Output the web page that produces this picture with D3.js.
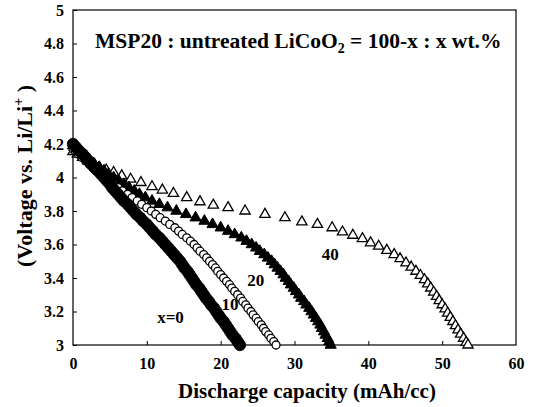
<!DOCTYPE html>
<html>
<head>
<meta charset="utf-8">
<script src="https://cdn.jsdelivr.net/npm/d3@7/dist/d3.min.js"></script>
<style>
  html, body { margin: 0; padding: 0; background: #fff; }
  svg { display: block; font-family: "Liberation Serif", "Times New Roman", serif; font-weight: bold; }
</style>
</head>
<body>
<svg id="chart" width="535" height="407"></svg>
<script>
"use strict";

// axis ticks
const capacityTicks = [0, 10, 20, 30, 40, 50, 60];
const voltageTicks = [3, 3.2, 3.4, 3.6, 3.8, 4, 4.2, 4.4, 4.6, 4.8, 5];
const voltageTickLabels = ["3", "3.2", "3.4", "3.6", "3.8", "4", "4.2", "4.4", "4.6", "4.8", "5"];

// [capacity (mAh/cc), voltage (V)]
const x0Data = [
    [0.0, 4.2], [0.4, 4.18], [0.8, 4.16], [1.3, 4.14], [1.7, 4.12], [2.1, 4.1],
    [2.5, 4.08], [2.9, 4.06], [3.4, 4.04], [3.8, 4.02], [4.2, 4.0],
    [4.6, 3.98], [5.0, 3.96], [5.3, 3.94], [5.7, 3.92], [6.1, 3.9],
    [6.5, 3.88], [6.9, 3.86], [7.4, 3.84], [7.8, 3.82], [8.2, 3.8],
    [8.6, 3.78], [9.1, 3.76], [9.5, 3.74], [10.0, 3.72], [10.4, 3.7],
    [10.8, 3.68], [11.2, 3.66], [11.7, 3.64], [12.1, 3.62], [12.5, 3.6],
    [12.9, 3.58], [13.3, 3.56], [13.7, 3.54], [14.1, 3.52], [14.5, 3.5],
    [14.8, 3.48], [15.1, 3.46], [15.5, 3.44], [15.8, 3.42], [16.1, 3.4],
    [16.4, 3.38], [16.7, 3.36], [17.1, 3.34], [17.4, 3.32], [17.7, 3.3],
    [18.0, 3.28], [18.4, 3.26], [18.7, 3.24], [19.1, 3.22], [19.4, 3.2],
    [19.7, 3.18], [20.0, 3.16], [20.4, 3.14], [20.7, 3.12], [21.0, 3.1],
    [21.3, 3.08], [21.6, 3.06], [22.0, 3.04], [22.3, 3.02], [22.6, 3.0]
];

const x10Data = [
    [0.0, 4.17], [0.3, 4.16], [0.7, 4.14], [1.2, 4.12], [1.7, 4.1],
    [2.2, 4.08], [2.7, 4.06], [3.1, 4.04], [3.6, 4.02], [4.1, 4.0],
    [4.8, 3.98], [5.4, 3.96], [6.1, 3.94], [6.7, 3.92], [7.4, 3.9],
    [8.0, 3.88], [8.7, 3.86], [9.3, 3.84], [10.0, 3.82], [10.6, 3.8],
    [11.2, 3.78], [11.8, 3.76], [12.5, 3.74], [13.1, 3.72], [13.8, 3.7],
    [14.3, 3.68], [14.8, 3.66], [15.4, 3.64], [15.9, 3.62], [16.4, 3.6],
    [16.8, 3.58], [17.2, 3.56], [17.7, 3.54], [18.1, 3.52], [18.5, 3.5],
    [18.9, 3.48], [19.3, 3.46], [19.6, 3.44], [20.0, 3.42], [20.4, 3.4],
    [20.8, 3.38], [21.2, 3.36], [21.5, 3.34], [21.9, 3.32], [22.3, 3.3],
    [22.7, 3.28], [23.0, 3.26], [23.4, 3.24], [23.7, 3.22], [24.1, 3.2],
    [24.4, 3.18], [24.8, 3.16], [25.1, 3.14], [25.5, 3.12], [25.8, 3.1],
    [26.1, 3.08], [26.5, 3.06], [26.8, 3.04], [27.2, 3.02], [27.5, 3.0]
];

const x20Data = [
    [0.0, 4.19], [0.2, 4.18], [0.7, 4.16], [1.2, 4.14], [1.7, 4.12], [2.2, 4.1],
    [2.9, 4.08], [3.5, 4.06], [4.2, 4.04], [4.8, 4.02], [5.5, 4.0],
    [6.2, 3.98], [6.9, 3.96], [7.6, 3.94], [8.3, 3.92], [9.0, 3.9],
    [9.8, 3.88], [10.7, 3.86], [11.7, 3.84], [12.8, 3.82], [14.0, 3.8],
    [15.3, 3.78], [16.6, 3.76], [17.8, 3.74], [18.9, 3.72], [20.0, 3.7],
    [21.0, 3.68], [21.9, 3.66], [22.8, 3.64], [23.5, 3.62], [24.2, 3.6],
    [24.8, 3.58], [25.3, 3.56], [25.9, 3.54], [26.4, 3.52], [26.9, 3.5],
    [27.3, 3.48], [27.7, 3.46], [28.1, 3.44], [28.5, 3.42], [28.8, 3.4],
    [29.2, 3.38], [29.5, 3.36], [29.9, 3.34], [30.2, 3.32], [30.6, 3.3],
    [30.9, 3.28], [31.3, 3.26], [31.6, 3.24], [32.0, 3.22], [32.3, 3.2],
    [32.6, 3.18], [32.9, 3.16], [33.2, 3.14], [33.5, 3.12], [33.7, 3.1],
    [34.0, 3.08], [34.2, 3.06], [34.5, 3.04], [34.7, 3.02], [34.9, 3.0]
];

const x40Data = [
    [0.0, 4.155], [0.6, 4.14], [1.3, 4.12], [2.0, 4.1], [2.8, 4.08], [3.6, 4.06],
    [4.5, 4.045], [5.5, 4.03], [6.6, 4.01], [7.8, 3.99], [9.2, 3.97], [10.7, 3.945],
    [12.1, 3.925], [13.6, 3.905], [15.4, 3.88], [17.2, 3.855], [19.0, 3.835],
    [21.0, 3.82], [23.3, 3.8], [26.0, 3.78], [28.7, 3.76], [31.0, 3.735],
    [33.1, 3.72], [35.1, 3.7], [36.5, 3.675], [37.9, 3.655], [39.2, 3.635],
    [40.3, 3.61], [41.4, 3.59], [42.5, 3.565], [43.5, 3.54], [44.3, 3.515],
    [45.1, 3.49], [45.8, 3.465], [46.45, 3.44], [47.05, 3.415], [47.6, 3.39],
    [48.05, 3.365], [48.45, 3.34], [48.85, 3.315], [49.25, 3.29], [49.6, 3.265],
    [50.0, 3.24], [50.4, 3.215], [50.75, 3.19], [51.1, 3.165], [51.45, 3.14],
    [51.8, 3.115], [52.15, 3.09], [52.5, 3.065], [52.9, 3.04], [53.25, 3.015],
    [53.5, 3.0]
];

// curve labels: text, capacity, voltage (baseline-left anchor)
const curveLabels = [
    ["x=0", 11.4, 3.13],
    ["10", 20.1, 3.21],
    ["20", 23.6, 3.35],
    ["40", 33.7, 3.51]
];

const plot = { left: 73, right: 516, top: 10, bottom: 345 };

const svg = d3.select("#chart");

const xScale = d3.scaleLinear().domain([0, 60]).range([plot.left, plot.right]);
const yScale = d3.scaleLinear().domain([3, 5]).range([plot.bottom, plot.top]);

// frame
svg.append("rect")
    .attr("x", plot.left)
    .attr("y", plot.top)
    .attr("width", plot.right - plot.left)
    .attr("height", plot.bottom - plot.top)
    .attr("fill", "none")
    .attr("stroke", "#000")
    .attr("stroke-width", 1.2);

// x axis, ticks pointing inwards
const xAxis = d3.axisBottom(xScale)
    .tickValues(capacityTicks)
    .tickSize(-4)
    .tickPadding(13)
    .tickFormat(d3.format("d"));
const xAxisG = svg.append("g")
    .attr("transform", `translate(0,${plot.bottom})`)
    .call(xAxis);

// y axis, ticks pointing inwards
const yAxis = d3.axisLeft(yScale)
    .tickValues(voltageTicks)
    .tickSize(-4)
    .tickPadding(9)
    .tickFormat((d, i) => voltageTickLabels[i]);
const yAxisG = svg.append("g")
    .attr("transform", `translate(${plot.left},0)`)
    .call(yAxis);

[xAxisG, yAxisG].forEach((g) => {
    g.select(".domain").remove();
    g.attr("font-family", null).attr("font-size", null);
    g.selectAll(".tick line").attr("stroke", "#000").attr("stroke-width", 1);
    g.selectAll(".tick text")
        .attr("fill", "#000")
        .style("font-family", "'Liberation Serif', serif")
        .style("font-weight", "bold")
        .style("font-size", "16px");
});
xAxisG.selectAll(".tick")
    .filter((d) => d === 0 || d === 60)
    .select("line")
    .remove();

/**
 * Draws one series as d3 symbols.
 */
const drawSeries = (data, symbolType, size, filled, strokeWidth) => {
    const symbol = d3.symbol().type(symbolType).size(size);
    svg.append("g")
        .selectAll("path")
        .data(data)
        .enter()
        .append("path")
        .attr("d", symbol)
        .attr("transform", (d) => `translate(${xScale(d[0])},${yScale(d[1])})`)
        .attr("fill", filled ? "#000" : "#fff")
        .attr("stroke", "#000")
        .attr("stroke-width", strokeWidth);
};

drawSeries(x40Data, d3.symbolTriangle, 46, false, 1.3);
drawSeries(x20Data, d3.symbolTriangle, 54, true, 1);
drawSeries(x10Data, d3.symbolCircle, 50, false, 1.3);
drawSeries(x0Data, d3.symbolCircle, 105, true, 0.8);

// curve labels
svg.append("g")
    .selectAll("text")
    .data(curveLabels)
    .enter()
    .append("text")
    .attr("x", (d) => xScale(d[1]))
    .attr("y", (d) => yScale(d[2]))
    .attr("font-size", 17)
    .text((d) => d[0]);

// title inside the plot
const title = svg.append("text")
    .attr("x", 95)
    .attr("y", 48)
    .attr("font-size", 21.5);
title.append("tspan").text("MSP20 : untreated LiCoO");
title.append("tspan").attr("font-size", 14).attr("dy", 5).text("2");
title.append("tspan").attr("dy", -5).text(" = 100-x : x wt.%");

// axis titles
svg.append("text")
    .attr("x", 307)
    .attr("y", 398)
    .attr("text-anchor", "middle")
    .attr("font-size", 21)
    .text("Discharge capacity (mAh/cc)");

const yTitle = svg.append("text")
    .attr("transform", `translate(32,176) rotate(-90)`)
    .attr("text-anchor", "middle")
    .attr("font-size", 22);
yTitle.append("tspan").text("(Voltage vs. Li/Li");
yTitle.append("tspan").attr("font-size", 14).attr("dy", -9).text("+");
yTitle.append("tspan").attr("dy", 9).text(" )");
</script>
</body>
</html>
